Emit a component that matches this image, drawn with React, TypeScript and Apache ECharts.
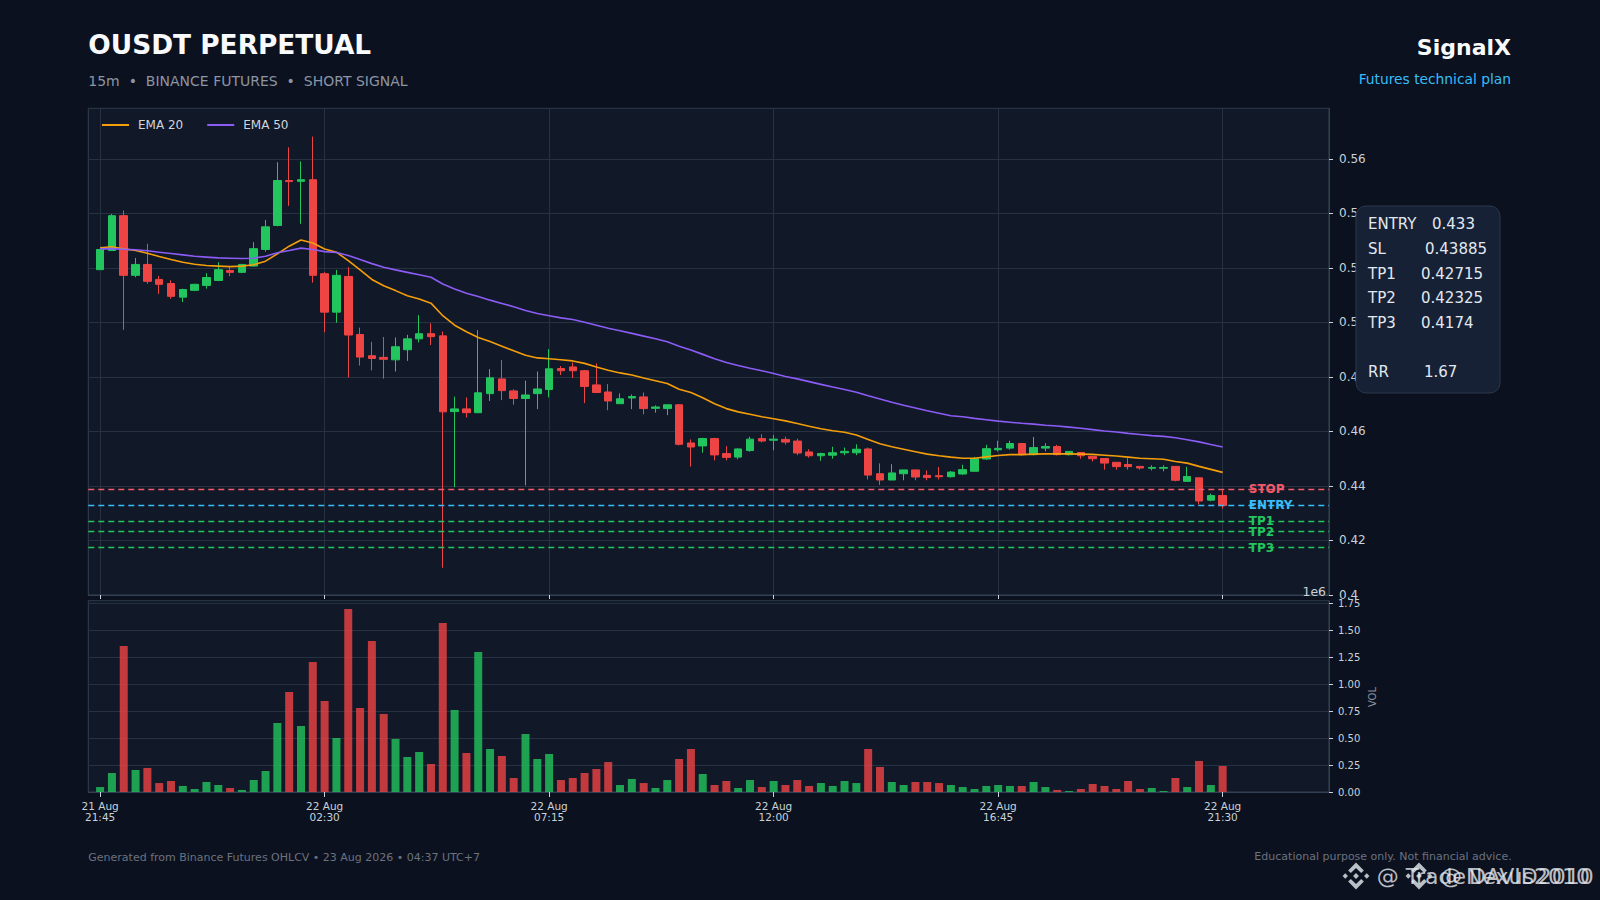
import React, { useEffect, useRef } from "react";
import * as echarts from "echarts";

// ---- data ----
const OPEN = [0.5194,0.5264,0.5392,0.5173,0.5213,0.5158,0.5143,0.5093,0.5118,0.5136,0.5154,0.5191,0.5184,0.5207,0.5268,0.5356,0.5521,0.5518,0.5524,0.5179,0.5038,0.5169,0.4956,0.4878,0.4872,
0.4863,0.4900,0.4940,0.4959,0.4951,0.4673,0.4683,0.4669,0.4739,0.4793,0.4749,0.4721,0.4739,0.4754,0.4831,0.4837,0.4823,0.4771,0.4745,0.4702,0.4723,0.4727,0.4685,0.4684,0.4698,
0.4558,0.4547,0.4574,0.4519,0.4506,0.4530,0.4574,0.4568,0.4571,0.4565,0.4525,0.4511,0.4513,0.4522,0.4522,0.4536,0.4445,0.4422,0.4445,0.4459,0.4439,0.4438,0.4434,
0.4444,0.4454,0.4499,0.4533,0.4539,0.4556,0.4515,0.4539,0.4545,0.4515,0.4523,0.4509,0.4501,0.4487,0.4479,0.4472,0.4465,0.4465,0.4472,0.4417,0.4430,0.4348,0.4365];
const CLOSE = [0.5268,0.5392,0.5173,0.5213,0.5151,0.5140,0.5096,0.5121,0.5140,0.5165,0.5194,0.5184,0.5213,0.5271,0.5351,0.5521,0.5517,0.5524,0.5173,0.5038,0.5173,0.4954,0.4873,0.4868,0.4865,
0.4911,0.4940,0.4959,0.4948,0.4672,0.4683,0.4669,0.4742,0.4797,0.4750,0.4721,0.4734,0.4756,0.4830,0.4823,0.4823,0.4765,0.4743,0.4712,0.4720,0.4728,0.4684,0.4690,0.4698,0.4553,
0.4543,0.4574,0.4514,0.4505,0.4536,0.4572,0.4565,0.4572,0.4561,0.4521,0.4511,0.4519,0.4522,0.4527,0.4535,0.4440,0.4422,0.4448,0.4459,0.4433,0.4431,0.4434,0.4451,
0.4460,0.4500,0.4537,0.4538,0.4556,0.4515,0.4541,0.4545,0.4515,0.4527,0.4511,0.4500,0.4484,0.4471,0.4471,0.4466,0.4468,0.4468,0.4421,0.4435,0.4345,0.4365,0.4328];
const LOW = [0.5193,0.5264,0.4973,0.5166,0.5142,0.5105,0.5087,0.5075,0.5115,0.5124,0.5152,0.5170,0.5181,0.5205,0.5260,0.5353,0.5428,0.5362,0.5146,0.4964,0.4999,0.4798,0.4842,0.4824,0.4794,
0.4820,0.4859,0.4927,0.4917,0.4100,0.4396,0.4651,0.4669,0.4712,0.4715,0.4698,0.4402,0.4682,0.4725,0.4807,0.4796,0.4704,0.4743,0.4678,0.4702,0.4682,0.4663,0.4669,0.4660,0.4549,
0.4471,0.4522,0.4494,0.4494,0.4498,0.4526,0.4560,0.4531,0.4552,0.4513,0.4504,0.4492,0.4500,0.4513,0.4513,0.4424,0.4404,0.4422,0.4421,0.4421,0.4421,0.4424,0.4431,
0.4441,0.4454,0.4496,0.4527,0.4533,0.4512,0.4512,0.4527,0.4512,0.4512,0.4500,0.4490,0.4460,0.4460,0.4460,0.4460,0.4457,0.4454,0.4417,0.4417,0.4332,0.4344,0.4317];
const HIGH = [0.5270,0.5398,0.5411,0.5237,0.5289,0.5171,0.5155,0.5124,0.5142,0.5181,0.5221,0.5203,0.5215,0.5295,0.5376,0.5588,0.5643,0.5591,0.5682,0.5185,0.5193,0.5203,0.4981,0.4929,0.4947,
0.4945,0.4955,0.5027,0.4997,0.4967,0.4728,0.4725,0.4972,0.4829,0.4862,0.4755,0.4787,0.4820,0.4902,0.4840,0.4853,0.4826,0.4850,0.4774,0.4740,0.4736,0.4743,0.4696,0.4698,0.4701,
0.4571,0.4577,0.4577,0.4546,0.4538,0.4581,0.4590,0.4587,0.4581,0.4574,0.4535,0.4522,0.4544,0.4541,0.4553,0.4541,0.4483,0.4480,0.4459,0.4459,0.4457,0.4470,0.4455,
0.4478,0.4507,0.4551,0.4566,0.4566,0.4558,0.4580,0.4557,0.4551,0.4527,0.4523,0.4509,0.4501,0.4487,0.4502,0.4472,0.4476,0.4476,0.4472,0.4470,0.4430,0.4372,0.4387];
const EMA20 = [0.5274,0.5278,0.5270,0.5264,0.5254,0.5242,0.5231,0.5221,0.5214,0.5209,0.5207,0.5205,0.5207,0.5212,0.5225,0.5252,0.5280,0.5303,0.5292,0.5270,0.5258,0.5227,0.5193,0.5158,0.5135,
0.5117,0.5098,0.5086,0.5071,0.5025,0.4990,0.4966,0.4945,0.4930,0.4913,0.4896,0.4880,0.4870,0.4867,0.4863,0.4859,0.4850,0.4837,0.4825,0.4815,0.4807,0.4796,0.4786,0.4776,0.4755,
0.4743,0.4724,0.4702,0.4684,0.4672,0.4663,0.4654,0.4647,0.4639,0.4629,0.4619,0.4610,0.4603,0.4597,0.4587,0.4571,0.4555,0.4544,0.4535,0.4526,0.4517,0.4511,0.4506,
0.4502,0.4502,0.4507,0.4512,0.4515,0.4515,0.4517,0.4518,0.4518,0.4518,0.4517,0.4516,0.4513,0.4510,0.4506,0.4502,0.4500,0.4498,0.4490,0.4484,0.4472,0.4461,0.4450];
const EMA50 = [0.5270,0.5271,0.5269,0.5267,0.5263,0.5258,0.5253,0.5248,0.5243,0.5240,0.5237,0.5236,0.5235,0.5236,0.5243,0.5256,0.5264,0.5273,0.5268,0.5260,0.5257,0.5246,0.5231,0.5216,0.5203,
0.5193,0.5184,0.5175,0.5166,0.5141,0.5123,0.5107,0.5095,0.5082,0.5070,0.5058,0.5044,0.5033,0.5025,0.5017,0.5011,0.5001,0.4990,0.4979,0.4970,0.4960,0.4950,0.4940,0.4929,0.4913,
0.4899,0.4883,0.4867,0.4853,0.4842,0.4832,0.4823,0.4813,0.4802,0.4793,0.4783,0.4773,0.4763,0.4754,0.4744,0.4731,0.4719,0.4707,0.4696,0.4686,0.4676,0.4667,0.4658,
0.4654,0.4648,0.4643,0.4638,0.4634,0.4630,0.4627,0.4623,0.4620,0.4616,0.4612,0.4607,0.4602,0.4598,0.4593,0.4589,0.4585,0.4582,0.4577,0.4570,0.4562,0.4552,0.4543];
// volume in millions (axis offset 1e6)
const VOLUME_M = [0.046,0.176,1.354,0.204,0.223,0.083,0.102,0.056,0.028,0.093,0.065,0.037,0.019,0.111,0.195,0.640,0.928,0.612,1.206,0.844,0.501,1.698,0.779,1.401,0.724,
0.492,0.325,0.371,0.260,1.568,0.761,0.362,1.299,0.399,0.334,0.130,0.538,0.306,0.353,0.111,0.130,0.176,0.213,0.278,0.065,0.121,0.083,0.037,0.111,0.306,
0.399,0.167,0.065,0.102,0.037,0.111,0.046,0.102,0.065,0.111,0.056,0.083,0.056,0.102,0.083,0.399,0.232,0.093,0.065,0.093,0.093,0.083,0.065,
0.046,0.028,0.056,0.065,0.056,0.056,0.093,0.046,0.019,0.009,0.028,0.074,0.056,0.028,0.102,0.028,0.037,0.009,0.130,0.046,0.288,0.065,0.241];

const FIRST_DAY = 21;
const FIRST_MINUTES = 21 * 60 + 45; // 21 Aug 21:45
const STEP_MIN = 15;
const TICK_INDEX = [0, 19, 38, 57, 76, 95];

const LEVEL_KEYS = ["STOP", "ENTRY", "TP1", "TP2", "TP3"];
const LEVEL_PRICES = [0.43885, 0.433, 0.42715, 0.42325, 0.4174];
const LEVEL_COLORS = ["#f25a6b", "#38bdf8", "#22c55e", "#22c55e", "#22c55e"];

const PLAN_NAMES = ["ENTRY", "SL", "TP1", "TP2", "TP3"];
const PLAN_VALUES = [0.433, 0.43885, 0.42715, 0.42325, 0.4174];
const RR = 1.67;

const PAD_LEFT = 1;
const PAD_RIGHT = 9;

const FONT = "DejaVu Sans";
const BG = "#0b111e";
const PLOT_BG = "#111827";
const GRID_C = "#263142";
const BORDER_C = "#334053";
const TICK_C = "#c9d1d9";
const UP = "#22c55e";
const DOWN = "#ef4444";
const UP_VOL = "rgba(34,197,94,0.8)";
const DOWN_VOL = "rgba(239,68,68,0.8)";

function pad2(n: number) {
  return n < 10 ? "0" + n : String(n);
}
function catName(k: number) {
  const m = FIRST_MINUTES + STEP_MIN * (k - PAD_LEFT);
  const day = FIRST_DAY + Math.floor(m / 1440);
  const mm = ((m % 1440) + 1440) % 1440;
  return day + " Aug\n" + pad2(Math.floor(mm / 60)) + ":" + pad2(mm % 60);
}

function bnbIcon(cx: number, cy: number, s: number, fill: string) {
  const shapes = [
    [[0, -12], [7, -5], [4.6, -2.6], [0, -7.2], [-4.6, -2.6], [-7, -5]],
    [[0, 12], [7, 5], [4.6, 2.6], [0, 7.2], [-4.6, 2.6], [-7, 5]],
    [[-12, 0], [-9.6, -2.4], [-7.2, 0], [-9.6, 2.4]],
    [[12, 0], [9.6, -2.4], [7.2, 0], [9.6, 2.4]],
    [[0, -2.6], [2.6, 0], [0, 2.6], [-2.6, 0]],
  ];
  return shapes.map((pts) => ({
    type: "polygon",
    z: 100,
    silent: true,
    shape: { points: pts.map(([x, y]) => [cx + x * s, cy + y * s]) },
    style: { fill },
  }));
}

export default function App() {
  const ref = useRef<HTMLDivElement>(null);

  useEffect(() => {
    if (!ref.current) return;
    const chart = echarts.init(ref.current, undefined, { renderer: "svg" });
    const n = OPEN.length;
    const total = PAD_LEFT + n + PAD_RIGHT;
    const cats: string[] = [];
    for (let k = 0; k < total; k++) cats.push(catName(k));
    const tickSet = new Set(TICK_INDEX.map((i) => i + PAD_LEFT));
    const tickFn = (index: number) => tickSet.has(index);

    const lead: any[] = [];
    for (let k = 0; k < PAD_LEFT; k++) lead.push("-");

    const candles = lead.concat(OPEN.map((o, i) => [o, CLOSE[i], LOW[i], HIGH[i]]));
    const vols = lead.concat(
      VOLUME_M.map((v, i) => ({
        value: v,
        itemStyle: { color: CLOSE[i] >= OPEN[i] ? UP_VOL : DOWN_VOL },
      }))
    );
    const ema20 = lead.concat(EMA20);
    const ema50 = lead.concat(EMA50);
    const labelCat = cats[PAD_LEFT + n + 1];

    const textEl = (
      text: string,
      x: number,
      y: number,
      size: number,
      fill: string,
      align: string = "left",
      weight: string = "normal",
      extra: any = {}
    ) => ({
      type: "text",
      x,
      y,
      z: 100,
      silent: true,
      ...extra,
      style: {
        text,
        fill,
        fontSize: size,
        fontFamily: FONT,
        fontWeight: weight,
        align,
        verticalAlign: "middle",
        textAlign: align,
        textVerticalAlign: "middle",
      },
    });

    const planLines: any[] = [];
    const planValueX = [1432, 1425, 1421, 1421, 1421];
    const planY = [224.3, 249, 274, 298.3, 323.3];
    PLAN_NAMES.forEach((nm, i) => {
      planLines.push(textEl(nm, 1368, planY[i], 15, "#e2e8f0"));
      planLines.push(textEl(String(PLAN_VALUES[i]), planValueX[i], planY[i], 15, "#e2e8f0"));
    });
    planLines.push(textEl("RR", 1368, 372.3, 15, "#e2e8f0"));
    planLines.push(textEl(RR.toFixed(2), 1424, 372.3, 15, "#e2e8f0"));

    const wmFill = "rgba(226,230,236,0.82)";

    const option: any = {
      animation: false,
      backgroundColor: BG,
      textStyle: { fontFamily: FONT },
      legend: {
        data: ["EMA 20", "EMA 50"],
        left: 97,
        top: 114,
        icon: "rect",
        itemWidth: 27,
        itemHeight: 2,
        itemGap: 24,
        textStyle: { color: "#d1d5db", fontSize: 12, fontFamily: FONT, padding: [0, 0, 0, 4] },
      },
      grid: [
        { left: 88.3, top: 108.3, width: 1240.7, height: 486.7, show: true, backgroundColor: PLOT_BG, borderColor: BORDER_C, borderWidth: 1, containLabel: false },
        { left: 88.3, top: 600.7, width: 1240.7, height: 191.3, show: true, backgroundColor: PLOT_BG, borderColor: BORDER_C, borderWidth: 1, containLabel: false },
      ],
      xAxis: [
        {
          type: "category",
          gridIndex: 0,
          data: cats,
          boundaryGap: false,
          axisLine: { show: true, lineStyle: { color: BORDER_C } },
          axisTick: { show: true, interval: tickFn, length: 4, lineStyle: { color: TICK_C } },
          axisLabel: { show: false },
          splitLine: { show: true, interval: tickFn, lineStyle: { color: GRID_C, width: 1 } },
        },
        {
          type: "category",
          gridIndex: 1,
          data: cats,
          boundaryGap: false,
          axisLine: { show: true, lineStyle: { color: BORDER_C } },
          axisTick: { show: true, interval: tickFn, length: 5, lineStyle: { color: TICK_C } },
          axisLabel: {
            show: true,
            interval: tickFn,
            color: TICK_C,
            fontSize: 10.5,
            lineHeight: 11.5,
            margin: 8,
            fontFamily: FONT,
          },
          splitLine: { show: false },
        },
      ],
      yAxis: [
        {
          type: "value",
          gridIndex: 0,
          position: "right",
          min: 0.4,
          max: 0.5786,
          interval: 0.02,
          axisLine: { show: true, lineStyle: { color: BORDER_C } },
          axisTick: { show: true, length: 4, lineStyle: { color: TICK_C } },
          axisLabel: {
            color: TICK_C,
            fontSize: 12,
            margin: 10,
            fontFamily: FONT,
            showMaxLabel: false,
            formatter: (v: number) => String(+v.toFixed(2)),
          },
          splitLine: { show: true, lineStyle: { color: GRID_C, width: 1 } },
        },
        {
          type: "value",
          gridIndex: 1,
          position: "right",
          min: 0,
          max: 1.7746,
          interval: 0.25,
          axisLine: { show: true, lineStyle: { color: BORDER_C } },
          axisTick: { show: true, length: 4, lineStyle: { color: TICK_C } },
          axisLabel: {
            color: TICK_C,
            fontSize: 10,
            margin: 9,
            fontFamily: FONT,
            showMaxLabel: false,
            formatter: (v: number) => v.toFixed(2),
          },
          splitLine: { show: true, lineStyle: { color: GRID_C, width: 1 } },
        },
      ],
      series: [
        {
          name: "price",
          type: "candlestick",
          xAxisIndex: 0,
          yAxisIndex: 0,
          data: candles,
          barWidth: 8,
          itemStyle: { color: UP, color0: DOWN, borderColor: UP, borderColor0: DOWN, borderWidth: 1 },
          markLine: {
            silent: true,
            symbol: ["none", "none"],
            precision: 6,
            z: 6,
            label: { show: false },
            data: LEVEL_PRICES.map((p, i) => ({
              yAxis: p,
              lineStyle: { color: LEVEL_COLORS[i], type: [6, 4], width: 1.3 },
            })),
          },
          markPoint: {
            silent: true,
            symbol: "circle",
            symbolSize: 1,
            precision: 6,
            z: 4,
            itemStyle: { color: "rgba(0,0,0,0)" },
            label: {
              show: true,
              position: "right",
              distance: 2,
              fontSize: 12,
              fontWeight: "bold",
              fontFamily: FONT,
              formatter: "{b}",
            },
            data: LEVEL_PRICES.map((p, i) => ({
              name: LEVEL_KEYS[i],
              coord: [labelCat, p],
              label: { color: LEVEL_COLORS[i] },
            })),
          },
        },
        {
          name: "EMA 20",
          type: "line",
          xAxisIndex: 0,
          yAxisIndex: 0,
          data: ema20,
          symbol: "none",
          showSymbol: false,
          itemStyle: { color: "#f59e0b" },
          lineStyle: { color: "#f59e0b", width: 1.6 },
        },
        {
          name: "EMA 50",
          type: "line",
          xAxisIndex: 0,
          yAxisIndex: 0,
          data: ema50,
          symbol: "none",
          showSymbol: false,
          itemStyle: { color: "#8b5cf6" },
          lineStyle: { color: "#8b5cf6", width: 1.6 },
        },
        {
          name: "VOL",
          type: "bar",
          xAxisIndex: 1,
          yAxisIndex: 1,
          data: vols,
          barWidth: 8,
        },
      ],
      graphic: {
        elements: [
          textEl("OUSDT PERPETUAL", 88.3, 44, 26.4, "#f8fafc", "left", "bold"),
          textEl("15m  •  BINANCE FUTURES  •  SHORT SIGNAL", 88.3, 81, 14, "#8b95a5"),
          textEl("SignalX", 1511, 47, 22, "#f8fafc", "right", "bold"),
          textEl("Futures technical plan", 1511, 78.6, 13.8, "#38bdf8", "right"),
          textEl("Generated from Binance Futures OHLCV • 23 Aug 2026 • 04:37 UTC+7", 88.3, 857, 11, "#6b7280"),
          textEl("Educational purpose only. Not financial advice.", 1511.7, 856.3, 11, "#6b7280", "right"),
          textEl("1e6", 1326, 591.7, 12.4, TICK_C, "right"),
          textEl("VOL", 1372, 697, 10, "#8b949e", "center", "normal", { rotation: Math.PI / 2 }),
          {
            type: "rect",
            z: 99,
            silent: true,
            shape: { x: 1356, y: 206, width: 144, height: 187, r: 10 },
            style: { fill: "#172135", stroke: "#2b384c", lineWidth: 1 },
          },
          ...planLines,
          ...bnbIcon(1356, 876, 1.12, wmFill),
          textEl("@ TradeNexus2010", 1376.7, 876, 22, wmFill),
          ...bnbIcon(1419, 876, 1.12, wmFill),
          textEl("@ DAVID2010", 1440, 876, 22, wmFill),
        ],
      },
    };

    chart.setOption(option);
    return () => {
      chart.dispose();
    };
  }, []);

  return (
    <div
      ref={ref}
      style={{ position: "fixed", left: 0, top: 0, width: 1600, height: 900, background: BG }}
    />
  );
}
